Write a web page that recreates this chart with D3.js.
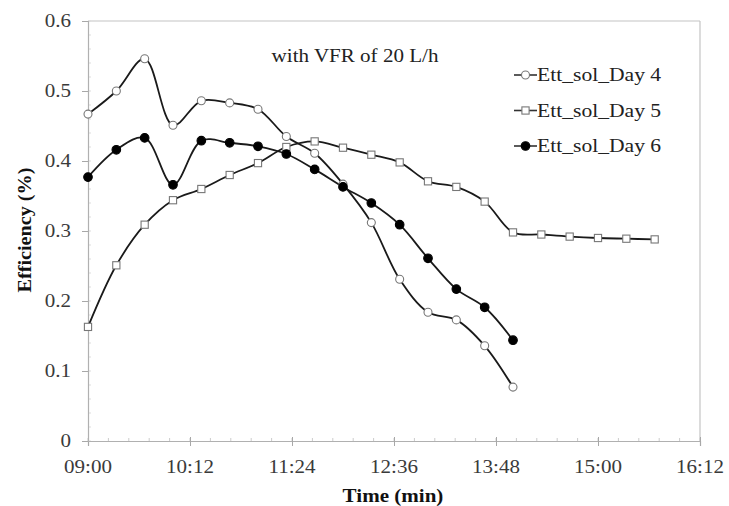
<!DOCTYPE html>
<html><head><meta charset="utf-8">
<script src="https://cdn.jsdelivr.net/npm/d3@7/dist/d3.min.js"></script>
<style>body{margin:0;background:#fff}svg{display:block}text{font-family:"Liberation Serif","Times New Roman",serif}</style>
</head><body><svg id="c" width="729" height="506"></svg>
<script>
const times = ["09:00","09:20","09:40","10:00","10:20","10:40","11:00","11:20","11:40","12:00","12:20","12:40","13:00","13:20","13:40","14:00","14:20","14:40","15:00","15:20","15:40"];
const day4 = [0.467,0.500,0.546,0.451,0.486,0.483,0.474,0.435,0.411,0.367,0.312,0.231,0.184,0.173,0.136,0.077];
const day5 = [0.163,0.251,0.309,0.344,0.360,0.380,0.397,0.420,0.428,0.419,0.409,0.398,0.371,0.363,0.342,0.298,0.295,0.292,0.290,0.289,0.288];
const day6 = [0.377,0.416,0.433,0.366,0.429,0.426,0.421,0.410,0.388,0.363,0.340,0.309,0.261,0.217,0.191,0.144];
const xTickLabels = ["09:00","10:12","11:24","12:36","13:48","15:00","16:12"];
const yTicks = [0,0.1,0.2,0.3,0.4,0.5,0.6];
const seriesNames = ["Ett_sol_Day 4","Ett_sol_Day 5","Ett_sol_Day 6"];

const toMin = s => { const [h,m] = s.split(":").map(Number); return h*60+m; };

const L=88,R=700,T=21,B=441, SX=1.17;
const svg = d3.select("#c");
const x = d3.scaleLinear().domain([toMin(xTickLabels[0]), toMin(xTickLabels[xTickLabels.length-1])]).range([L,R]);
const y = d3.scaleLinear().domain([0,0.6]).range([B,T]);

function stext(g, tx, ty, str, opts){
  const t = g.append("text").attr("transform",`translate(${tx},${ty}) scale(${opts.sx||SX},1)`)
    .attr("text-anchor",opts.anchor||"start").attr("font-size",opts.size||18)
    .attr("fill",opts.fill||"#333").text(str);
  if(opts.weight) t.attr("font-weight",opts.weight);
  return t;
}

// frame
svg.append("line").attr("x1",L).attr("x2",R).attr("y1",T).attr("y2",T).attr("stroke","#c4c4c4").attr("stroke-width",1.2);
svg.append("line").attr("x1",R).attr("x2",R).attr("y1",T).attr("y2",B).attr("stroke","#c4c4c4").attr("stroke-width",1.2);

// minor ticks
const xMinor = d3.range(x.domain()[0], x.domain()[1]+1, 14.4);
svg.append("g").selectAll("line").data(xMinor).join("line")
  .attr("x1",d=>x(d)).attr("x2",d=>x(d)).attr("y1",B-3).attr("y2",B).attr("stroke","#ccc");
const yMinor = d3.range(0,0.601,0.02);
svg.append("g").selectAll("line").data(yMinor).join("line")
  .attr("x1",L).attr("x2",L+3).attr("y1",d=>y(d)).attr("y2",d=>y(d)).attr("stroke","#ddd");

// axes
const xAxis = svg.append("g").attr("transform",`translate(0,${B})`)
  .call(d3.axisBottom(x).tickValues(xTickLabels.map(toMin)).tickSize(5).tickFormat(""));
const yAxis = svg.append("g").attr("transform",`translate(${L},0)`)
  .call(d3.axisLeft(y).tickValues(yTicks).tickSize(6).tickFormat(""));
[xAxis,yAxis].forEach(a=>{a.select(".domain").attr("stroke","#b0b0b0").attr("stroke-width",1.2);a.selectAll(".tick line").attr("stroke","#a8a8a8");});
xAxis.selectAll(".tick").append("line").attr("y1",-4).attr("y2",0).attr("stroke","#a8a8a8");

xTickLabels.forEach(s=>stext(svg, x(toMin(s)), 473, s, {anchor:"middle", size:18, fill:"#3a3a3a"}));
yTicks.forEach(v=>stext(svg, 71, y(v)+6, d3.format("")(v), {anchor:"end", size:18, fill:"#3a3a3a"}));

stext(svg, (L+R)/2 - 1, 502, "Time (min)", {anchor:"middle", size:18, weight:"bold", fill:"#111"});
svg.append("text").attr("transform",`translate(31,230) rotate(-90) scale(1.12,1)`).attr("text-anchor","middle")
  .attr("font-size",18).attr("font-weight","bold").attr("fill","#111").text("Efficiency (%)");
stext(svg, 355, 62, "with VFR of 20 L/h", {anchor:"middle", size:18, sx:1.17, fill:"#222"});

// series
const mk = arr => arr.map((v,i)=>({t:toMin(times[i]), v}));
const series = [
  {name:seriesNames[0], data:mk(day4), shape:"circle", fill:"#fff"},
  {name:seriesNames[1], data:mk(day5), shape:"square", fill:"#fff"},
  {name:seriesNames[2], data:mk(day6), shape:"circle", fill:"#000"}
];
const line = d3.line().x(d=>x(d.t)).y(d=>y(d.v)).curve(d3.curveCatmullRom.alpha(0.5));
function marker(g, cx, cy, s){
  if(s.shape==="circle"){
    g.append("circle").attr("cx",cx).attr("cy",cy).attr("r",s.fill==="#000"?4.3:4)
      .attr("fill",s.fill).attr("stroke",s.fill==="#000"?"#000":"#777").attr("stroke-width",1.1);
  } else {
    g.append("rect").attr("x",cx-3.6).attr("y",cy-3.6).attr("width",7.2).attr("height",7.2)
      .attr("fill",s.fill).attr("stroke","#777").attr("stroke-width",1.1);
  }
}
series.forEach(s=>{
  svg.append("path").datum(s.data).attr("d",line).attr("fill","none").attr("stroke","#1a1a1a").attr("stroke-width",1.8);
});
series.forEach(s=>{
  const g = svg.append("g");
  s.data.forEach(d=>marker(g, x(d.t), y(d.v), s));
});

// legend
series.forEach((s,i)=>{
  const ly = 75 + i*35.5;
  const g = svg.append("g");
  g.append("line").attr("x1",514).attr("x2",537).attr("y1",ly).attr("y2",ly).attr("stroke","#333").attr("stroke-width",1.6);
  marker(g, 525.5, ly, s);
  stext(g, 537, ly+6, s.name, {size:18, sx:1.2, fill:"#222"});
});
</script></body></html>
